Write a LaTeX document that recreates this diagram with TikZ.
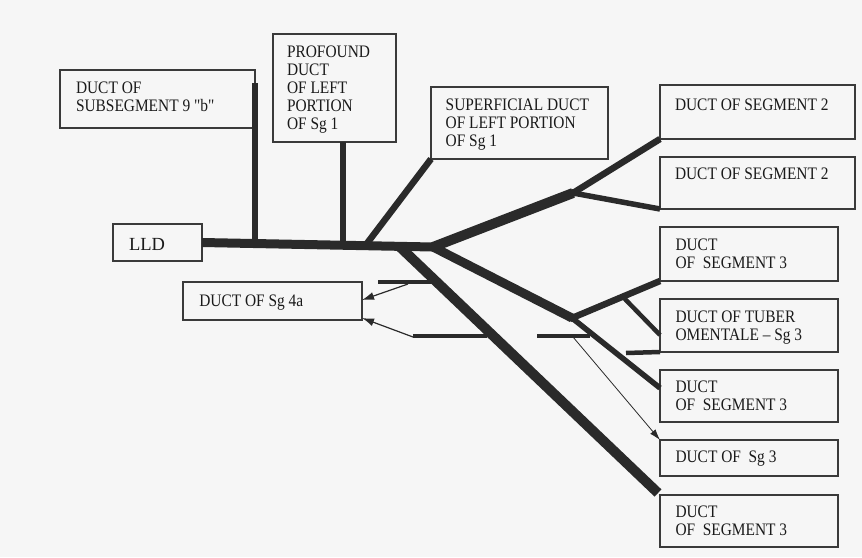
\documentclass[tikz,border=0pt]{standalone}
\usepackage{fontspec}
\setmainfont{Liberation Serif}
\newfontfamily\qfont{Liberation Serif}
\usepackage{graphicx}
\usetikzlibrary{arrows.meta}
\definecolor{boxc}{HTML}{3A3A3A}
\definecolor{ductc}{HTML}{2A2A2A}
\definecolor{txtc}{HTML}{1A1A1A}
\definecolor{bgc}{HTML}{F6F6F6}
\newcommand\lbl[1]{\scalebox{1}[1.14]{\begin{tabular}[t]{@{}l@{}}#1\end{tabular}}}
\newcommand\sq{{\qfont"}}
\begin{document}
\begin{tikzpicture}[x=1pt,y=-1pt,
  box/.style={draw=boxc, line width=1.3pt, anchor=north west, inner sep=0pt, outer sep=0pt},
  txt/.style={anchor=base west, inner sep=0pt, outer sep=0pt, font=\fontsize{15.4}{15.8}\selectfont, text=txtc},
  duct/.style={draw=ductc, line cap=butt},
  thick duct/.style={duct, line width=10pt},
  main duct/.style={duct, line width=9pt},
  mid duct/.style={duct, line width=6.5pt},
  thin duct/.style={duct, line width=4.5pt},
  pointer/.style={draw=ductc, line width=1.2pt, -{Latex[length=12pt,width=8pt]}},
  fine pointer/.style={draw=ductc, line width=0.8pt, -{Latex[length=11pt,width=7pt]}}]
\useasboundingbox (0,0) rectangle (862,557);
\fill[bgc] (0,0) rectangle (862,557);

% boxes
\node[box, minimum width=89pt,  minimum height=37pt]  (lld)   at (113,224) {};
\node[box, minimum width=195pt, minimum height=58pt]  (sub)   at (60,70)   {};
\node[box, minimum width=123pt, minimum height=108pt] (prof)  at (273,34)  {};
\node[box, minimum width=177pt, minimum height=72pt]  (sup)   at (431,87)  {};
\node[box, minimum width=195pt, minimum height=54pt]  (seg2a) at (660,85)  {};
\node[box, minimum width=195pt, minimum height=52pt]  (seg2b) at (660,157) {};
\node[box, minimum width=178pt, minimum height=54pt]  (seg3a) at (660,227) {};
\node[box, minimum width=178pt, minimum height=53pt]  (tub)   at (660,299) {};
\node[box, minimum width=178pt, minimum height=52pt]  (seg3b) at (660,370) {};
\node[box, minimum width=178pt, minimum height=36pt]  (sg3)   at (660,440) {};
\node[box, minimum width=178pt, minimum height=52pt]  (seg3c) at (660,495) {};
\node[box, minimum width=179pt, minimum height=38pt]  (sg4a)  at (183,282) {};

% junction coordinates
\coordinate (t0) at (202,242.5);
\coordinate (J0) at (433,247);
\coordinate (J2) at (573,193);
\coordinate (J3) at (572,318);
\coordinate (v1top) at (255,83);
\coordinate (v1bot) at (255,244);
\coordinate (v2top) at (343,142);
\coordinate (v2bot) at (343,245);
\coordinate (s1) at (365,246);
\coordinate (d0) at (400,247);
\coordinate (d1) at (658,493);
\coordinate (tb0) at (623,297);
\coordinate (tb1) at (660,335);
\coordinate (tbar0) at (626,353);
\coordinate (sb) at (660,388);
\coordinate (lb0) at (537,336);
\coordinate (lb1) at (590,336);
\coordinate (ua0) at (378,282);
\coordinate (ua1) at (434,282);
\coordinate (la0) at (413,336);
\coordinate (la1) at (487,336);
\coordinate (ap1) at (408,284);
\coordinate (ap2) at (413,337);
\coordinate (ap3) at (573,337);
\coordinate (sg4aup) at (362,300);
\coordinate (sg4alo) at (362,318);

% ducts
\draw[mid duct] (v1top) -- (v1bot);
\draw[mid duct] (v2top) -- (v2bot);
\draw[mid duct] (s1) -- (sup.south west);
\draw[main duct] (t0) -- (J0);
\draw[thick duct, line join=round] (J0) -- (J2);
\draw[mid duct] (J2) -- (seg2a.south west);
\draw[duct, line width=5.5pt] (J2) -- (seg2b.south west);
\draw[main duct] (J0) -- (J3);
\draw[mid duct] (J3) -- (seg3a.south west);
\draw[duct, line width=5.5pt] (J3) -- (sb);
\draw[thick duct] (d0) -- (d1);
\draw[thin duct] (tb0) -- (tb1);
\draw[thin duct] (tbar0) -- (tub.south west);
\draw[thin duct] (lb0) -- (lb1);
\draw[thin duct] (ua0) -- (ua1);
\draw[thin duct] (la0) -- (la1);
\fill[ductc] (J0) circle (4.5pt);
\fill[ductc] (J2) circle (4pt);
\fill[ductc] (J3) circle (4pt);

% pointers
\draw[pointer] (ap1) -- (sg4aup);
\draw[pointer] (ap2) -- (sg4alo);
\draw[fine pointer] (ap3) -- (sg3.north west);

% labels
\node[txt, font=\fontsize{18.5}{20}\selectfont] (tlld) at (129,250.7) {LLD};
\node[txt] (tsub) at (76,93.3) {\lbl{DUCT OF\\SUBSEGMENT 9 \sq b\sq}};
\node[txt] (tprof) at (287,57.3) {\lbl{PROFOUND\\DUCT\\OF LEFT\\PORTION\\OF Sg 1}};
\node[txt] (tsup) at (445.7,110.7) {\lbl{SUPERFICIAL DUCT\\OF LEFT PORTION\\OF Sg 1}};
\node[txt] (tseg2a) at (675,110) {\lbl{DUCT OF SEGMENT 2}};
\node[txt] (tseg2b) at (675,179.3) {\lbl{DUCT OF SEGMENT 2}};
\node[txt] (tseg3a) at (675.5,250.5) {\lbl{DUCT\\OF~~SEGMENT 3}};
\node[txt] (ttub) at (675.5,322.7) {\lbl{DUCT OF TUBER\\OMENTALE – Sg 3}};
\node[txt] (tseg3b) at (675.5,392.3) {\lbl{DUCT\\OF~~SEGMENT 3}};
\node[txt] (tsg3) at (675.5,462.7) {\lbl{DUCT OF~~Sg 3}};
\node[txt] (tseg3c) at (675.5,517.7) {\lbl{DUCT\\OF~~SEGMENT 3}};
\node[txt] (tsg4a) at (199.3,306) {\lbl{DUCT OF Sg 4a}};
\end{tikzpicture}
\end{document}
